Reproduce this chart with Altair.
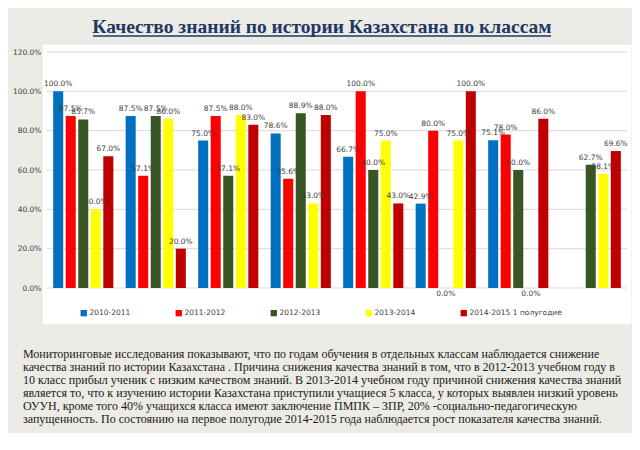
import altair as alt
import pandas as pd

categories = ["5 класс", "6 класс", "7 класс", "8 класс", "9 класс", "10 класс", "11 класс", "по школе"]
series = ["2010-2011", "2011-2012", "2012-2013", "2013-2014", "2014-2015 1 полугодие"]
v2010 = [1.000, 0.875, 0.750, 0.786, 0.667, 0.429, 0.751, None]
v2011 = [0.875, 0.571, 0.875, 0.556, 1.000, 0.800, 0.780, None]
v2012 = [0.857, 0.875, 0.571, 0.889, 0.600, 0.000, 0.600, 0.627]
v2013 = [0.400, 0.860, 0.880, 0.430, 0.750, 0.750, 0.000, 0.581]
v2014 = [0.670, 0.200, 0.830, 0.880, 0.430, 1.000, 0.860, 0.696]
colors = ["#0070C0", "#FF0000", "#375623", "#FFFF00", "#C00000"]
y_ticks = [0.0, 0.2, 0.4, 0.6, 0.8, 1.0, 1.2]

title_text = "Качество знаний по истории Казахстана  по классам"
paragraph = [
    "Мониторинговые исследования показывают, что по годам обучения в отдельных классам наблюдается снижение",
    "качества знаний по истории Казахстана . Причина снижения качества знаний в том, что в 2012-2013 учебном году в",
    "10 класс прибыл ученик с низким качеством знаний. В 2013-2014 учебном году причиной снижения качества знаний",
    "является то, что к изучению истории Казахстана приступили учащиеся 5 класса, у которых выявлен низкий уровень",
    "ОУУН, кроме того 40% учащихся класса имеют заключение ПМПК – ЗПР, 20% -социально-педагогическую",
    "запущенность. По состоянию на первое полугодие 2014-2015 года наблюдается рост показателя качества знаний.",
]

rows = []
for s, vals in zip(series, [v2010, v2011, v2012, v2013, v2014]):
    for c, v in zip(categories, vals):
        if v is not None:
            rows.append({"cat": c, "ser": s, "val": v})
df = pd.DataFrame(rows)

FONT = "DejaVu Sans"
y_scale = alt.Scale(domain=[0, 1.2], nice=False)
y_axis = alt.Axis(title=None, format=".1%", values=y_ticks, ticks=False,
                  labelOverlap=False, labelFont=FONT, labelFontSize=7.5,
                  labelColor="#404040", labelPadding=6, grid=False,
                  domainColor="#D9D9D9")

x_enc = alt.X("cat:N", sort=categories,
              scale=alt.Scale(paddingInner=0.17, paddingOuter=0.085),
              axis=alt.Axis(title=None, labelAngle=0, tickBand="extent", ticks=True,
                            tickSize=5, tickColor="#BFBFBF", domainColor="#BFBFBF",
                            labelFont=FONT, labelFontSize=7.5, labelColor="#404040",
                            labelPadding=3, grid=False))
xo_enc = alt.XOffset("ser:N", sort=series, scale=alt.Scale(paddingInner=0.2, paddingOuter=0))
y_enc = alt.Y("val:Q", scale=y_scale, axis=y_axis)

panel = alt.Chart(pd.DataFrame({"a": [1]})).mark_rect(color="white", stroke="#E4E4E4").encode(
    x=alt.value(-5), x2=alt.value(585), y=alt.value(-8), y2=alt.value(273))

grid = alt.Chart(pd.DataFrame({"val": y_ticks})).mark_rule(color="#D9D9D9", strokeWidth=1).encode(
    y=y_enc)

bars = alt.Chart(df).mark_bar().encode(
    x=x_enc, xOffset=xo_enc, y=y_enc,
    color=alt.Color("ser:N", sort=series, scale=alt.Scale(domain=series, range=colors),
                    legend=alt.Legend(orient="none", legendX=33, legendY=257,
                                      direction="horizontal", title=None,
                                      symbolType="square", symbolSize=40,
                                      symbolStrokeWidth=0, labelFont=FONT,
                                      labelFontSize=7.5, labelColor="#404040",
                                      columnPadding=44, labelOffset=2)))

labels = alt.Chart(df).transform_filter("datum.val > 0").mark_text(
    dy=-7, fontSize=7.5, font=FONT, color="#404040", baseline="middle").encode(
    x=x_enc, xOffset=xo_enc, y=y_enc, text=alt.Text("val:Q", format=".1%"))

zero_labels = alt.Chart(df).transform_filter("datum.val == 0").mark_text(
    dy=6, fontSize=7.5, font=FONT, color="#404040", baseline="middle").encode(
    x=x_enc, xOffset=xo_enc, y=y_enc, text=alt.Text("val:Q", format=".1%"))

title = alt.Chart(pd.DataFrame({"t": [title_text]})).mark_text(
    font="Liberation Serif", fontSize=19.5, fontWeight="bold", color="#1F3864",
    align="center", baseline="alphabetic").encode(
    x=alt.value(275), y=alt.value(-19), text="t:N")

underline = alt.Chart(pd.DataFrame({"a": [1]})).mark_rule(color="#1F3864", strokeWidth=1.3).encode(
    x=alt.value(46), x2=alt.value(504), y=alt.value(-16))

para_layers = []
for i, line in enumerate(paragraph):
    para_layers.append(
        alt.Chart(pd.DataFrame({"line": [line]})).mark_text(
            font="Liberation Serif", fontSize=12, color="#1A1A1A", align="left",
            baseline="alphabetic").encode(
            x=alt.value(-24), y=alt.value(306 + 13 * i), text="line:N"))

chart = alt.layer(panel, grid, bars, labels, zero_labels, title, underline, *para_layers).properties(
    width=580, height=236,
    autosize=alt.AutoSizeParams(type="none"),
    padding={"left": 39, "top": 44, "right": 5, "bottom": 145},
    background="#ECEBE6",
).configure_view(strokeWidth=0)

chart.save("out.html", embed_options={"renderer": "svg", "actions": False})
